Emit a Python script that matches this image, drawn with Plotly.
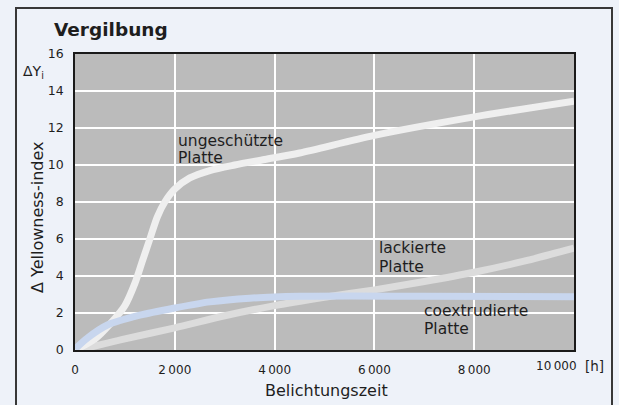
import plotly.graph_objects as go

# ---------------- data ----------------
hours_unprotected = [0, 400, 700, 1000, 1200, 1350, 1500, 1650, 1800, 2000, 2300, 2700, 3200, 3800, 4500, 6000, 8000, 10000]
yi_unprotected = [0, 0.6, 1.4, 2.4, 3.6, 4.8, 6.0, 7.2, 8.0, 8.7, 9.3, 9.7, 10.0, 10.3, 10.65, 11.6, 12.6, 13.45]

hours_lacquered = [150, 1000, 2000, 3000, 4000, 5000, 6000, 7000, 8000, 9000, 10000]
yi_lacquered = [0.05, 0.6, 1.2, 1.85, 2.4, 2.85, 3.25, 3.7, 4.2, 4.8, 5.5]

hours_coex = [0, 250, 650, 1300, 2000, 2700, 3500, 4500, 5500, 7000, 10000]
yi_coex = [0.05, 0.65, 1.35, 1.88, 2.27, 2.6, 2.8, 2.9, 2.92, 2.9, 2.88]

x_tickvals = [0, 2000, 4000, 6000, 8000]
x_ticktext = ["0", "2\u2009000", "4\u2009000", "6\u2009000", "8\u2009000"]
x_last_tick = 10000
x_last_ticktext = "10\u2009000"
y_tickvals = [0, 2, 4, 6, 8, 10, 12, 14, 16]

title_text = "Vergilbung"
x_title = "Belichtungszeit"
y_title = "Δ Yellowness-index"
y_unit = "ΔY<sub>i</sub>"
x_unit = "[h]"
label_unprotected = ["ungeschützte", "Platte"]
label_lacquered = ["lackierte", "Platte"]
label_coex = ["coextrudierte", "Platte"]

# ---------------- layout geometry ----------------
W, H = 619, 405
L, R, T, B = 75, 574, 54, 350
FONT = "DejaVu Sans"
TEXT = "#1e1e1e"


def px_x(px):
    return (px - L) / (R - L)


def px_y(py):
    return (B - py) / (B - T)


def dx(px):
    return (px - L) / (R - L) * 10000


def dy(py):
    return (B - py) / (B - T) * 16


fig = go.Figure()

fig.add_trace(go.Scatter(x=hours_lacquered, y=yi_lacquered, mode="lines",
                         line=dict(color="#dcdcdc", width=7, shape="spline", smoothing=0.8),
                         hoverinfo="skip", showlegend=False))
fig.add_trace(go.Scatter(x=hours_unprotected, y=yi_unprotected, mode="lines",
                         line=dict(color="#efefef", width=7, shape="spline", smoothing=0.8),
                         hoverinfo="skip", showlegend=False))
fig.add_trace(go.Scatter(x=hours_coex, y=yi_coex, mode="lines",
                         line=dict(color="#c8d6ee", width=7, shape="spline", smoothing=0.8),
                         hoverinfo="skip", showlegend=False))

annotations = []


def text_ann(text, x, y, size, xref="x", yref="y", xanchor="left", yanchor="middle", angle=0, bold=False,
             xshift=0):
    annotations.append(dict(text=text, x=x, y=y, xref=xref, yref=yref, xanchor=xanchor, yanchor=yanchor,
                            showarrow=False, textangle=angle, borderpad=0, xshift=xshift,
                            font=dict(family=FONT, size=size, color=TEXT,
                                      weight=("bold" if bold else "normal"))))


# curve labels
text_ann(label_unprotected[0], dx(177), dy(140.5), 15.5)
text_ann(label_unprotected[1], dx(177), dy(157.5), 15.5)
text_ann(label_lacquered[0], dx(378), dy(248), 15.5)
text_ann(label_lacquered[1], dx(378), dy(266.5), 15.5)
text_ann(label_coex[0], dx(423), dy(311), 15.5)
text_ann(label_coex[1], dx(423), dy(329), 15.5)

# last x tick label sits left of its grid line, before the unit
annotations.append(dict(text=x_last_ticktext, x=x_last_tick, y=px_y(366), xref="x", yref="paper",
                        xanchor="right", yanchor="middle", showarrow=False, borderpad=0, xshift=4,
                        font=dict(family=FONT, size=12, color=TEXT)))

# titles
text_ann(title_text, px_x(53), px_y(30), 18.5, xref="paper", yref="paper", bold=True)
text_ann(y_unit, px_x(22), px_y(72), 14, xref="paper", yref="paper")
text_ann(y_title, px_x(37), px_y(217), 16, xref="paper", yref="paper", xanchor="center", angle=-90)
text_ann(x_title, px_x(326), px_y(390), 16, xref="paper", yref="paper", xanchor="center")
text_ann(x_unit, px_x(594), px_y(366), 13.5, xref="paper", yref="paper", xanchor="center")

# outer frame (left, top, right)
frame_color = "#383838"
shapes = [
    dict(type="line", xref="paper", yref="paper", x0=px_x(16), y0=px_y(8), x1=px_x(16), y1=px_y(420),
         line=dict(color=frame_color, width=2), layer="above"),
    dict(type="line", xref="paper", yref="paper", x0=px_x(15), y0=px_y(8), x1=px_x(613), y1=px_y(8),
         line=dict(color=frame_color, width=2), layer="above"),
    dict(type="line", xref="paper", yref="paper", x0=px_x(612), y0=px_y(8), x1=px_x(612), y1=px_y(420),
         line=dict(color=frame_color, width=2), layer="above"),
]

fig.update_layout(
    width=W, height=H, autosize=False,
    margin=dict(l=L, r=W - R, t=T, b=H - B, pad=0, autoexpand=False),
    paper_bgcolor="#eef2f9",
    plot_bgcolor="#bbbbbb",
    showlegend=False,
    annotations=annotations,
    shapes=shapes,
    font=dict(family=FONT, color=TEXT),
)

fig.update_xaxes(range=[0, 10000], tickvals=x_tickvals, ticktext=x_ticktext,
                 showgrid=True, gridcolor="#ffffff", gridwidth=1.5, zeroline=False,
                 showline=True, linecolor="#1a1a1a", linewidth=1.5, mirror=True,
                 ticks="", ticklabelstandoff=8, tickfont=dict(family=FONT, size=12, color=TEXT))
fig.update_yaxes(range=[0, 16], tickvals=y_tickvals,
                 showgrid=True, gridcolor="#ffffff", gridwidth=1.5, zeroline=False,
                 showline=True, linecolor="#1a1a1a", linewidth=1.5, mirror=True,
                 ticks="", ticklabelstandoff=7, tickfont=dict(family=FONT, size=12.5, color=TEXT))

fig.write_html("out.html", config={"displayModeBar": False},
               post_script="document.body.style.margin='0';document.body.style.padding='0';"
                           "document.body.style.background='#eef2f9';")
